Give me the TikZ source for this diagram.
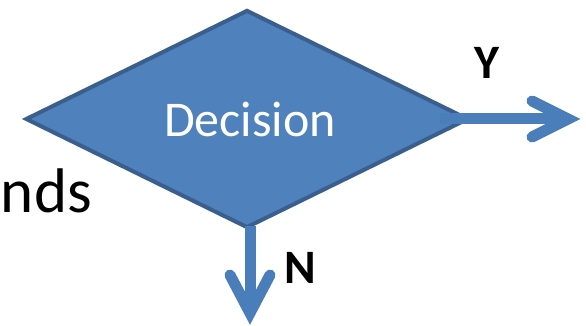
\documentclass[tikz,border=0pt]{standalone}
\usepackage{fontspec}
\setmainfont{Carlito}
\usetikzlibrary{shapes.geometric,calc}
\definecolor{dfill}{HTML}{4F81BD}
\definecolor{dborder}{HTML}{3A5F8C}
\definecolor{arrowc}{HTML}{4A7EBB}
\tikzset{
  decbox/.style={diamond, draw=dborder, fill=dfill, line width=4pt, inner sep=0pt,
    minimum width=443pt, minimum height=218pt, aspect=2.03},
  shaft/.style={draw=arrowc, line width=11pt},
  barb/.style={draw=arrowc, line width=11pt, line cap=round, line join=miter},
  lbl/.style={font=\fontsize{48}{52}\selectfont\bfseries, text=black},
}
\begin{document}
\begin{tikzpicture}[x=1pt,y=-1pt]
\useasboundingbox (0,0) rectangle (586,326);
\node[decbox] (d) at (247,119) {};
\node[text=white, font=\fontsize{50}{54}\selectfont, anchor=base] (dt) at (250,137) {Decision};
\node[font=\fontsize{63}{68}\selectfont, anchor=base east, inner sep=0pt] (nds) at (92,212) {nds};
\coordinate (ys) at (440,119);
\coordinate (yt) at (568,119);
\coordinate (ns) at (250,226);
\coordinate (nt) at (250,313);
\draw[shaft] (ys) -- (yt);
\draw[barb] ($(yt)+(-36,-18)$) -- (yt) -- ($(yt)+(-36,18)$);
\draw[shaft] (ns) -- (nt);
\draw[barb] ($(nt)+(-20,-38)$) -- (nt) -- ($(nt)+(20,-38)$);
\node[lbl] (y) at (487,63) {Y};
\node[lbl] (n) at (300,268) {N};
\end{tikzpicture}
\end{document}
